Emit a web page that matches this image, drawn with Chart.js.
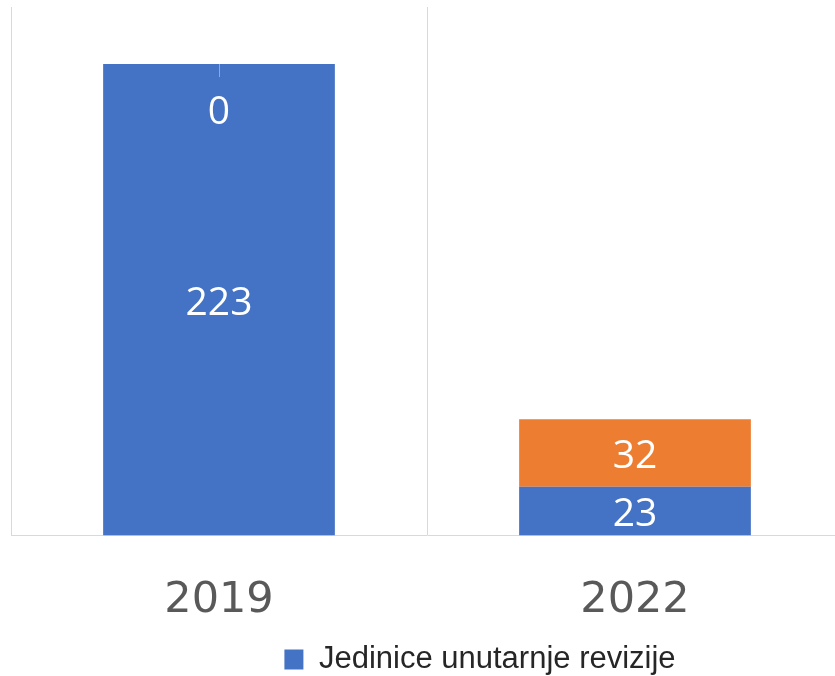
<!DOCTYPE html>
<html>
<head>
<meta charset="utf-8">
<script src="https://cdn.jsdelivr.net/npm/chart.js@4.4.1/dist/chart.umd.min.js"></script>
<style>
  html, body { margin: 0; padding: 0; background: #fff; overflow: hidden; }
  #wrap { width: 845px; height: 676px; }
</style>
</head>
<body>
<div id="wrap"><canvas id="chart"></canvas></div>
<script>
// chart data
const years = ['2019', '2022'];
const unitsValues = [223, 23];   // Jedinice unutarnje revizije
const otherValues = [0, 32];     // second (unlabelled) series
const legendLabel = 'Jedinice unutarnje revizije';

// simple inline value labels, centered in each bar segment
const valueLabels = {
  id: 'valueLabels',
  afterDatasetsDraw(chart) {
    const ctx = chart.ctx;
    ctx.save();
    ctx.font = '39px "Open Sans"';
    ctx.textAlign = 'center';
    ctx.textBaseline = 'middle';
    chart.data.datasets.forEach((ds, i) => {
      chart.getDatasetMeta(i).data.forEach((bar, j) => {
        const v = ds.data[j];
        let y = (bar.y + bar.base) / 2 + 4;
        if (v === 0) {
          // zero segment: short leader line and label pushed inside the bar below
          ctx.strokeStyle = '#a6a6a6';
          ctx.lineWidth = 1;
          ctx.beginPath();
          ctx.moveTo(bar.x + 0.5, bar.y);
          ctx.lineTo(bar.x + 0.5, bar.y + 13);
          ctx.stroke();
          y = bar.y + 49;
        }
        ctx.fillStyle = '#ffffff';
        ctx.fillText(String(v), bar.x, y);
      });
    });
    ctx.restore();
  }
};

// legend in the original sits right of centre and close to the bottom
const shiftLegend = {
  id: 'shiftLegend',
  afterLayout(chart) {
    chart.legend.left += 53;
    chart.legend.right += 53;
    chart.legend.top += 9;
    chart.legend.bottom += 9;
  }
};

const ctx = document.getElementById('chart').getContext('2d');
new Chart(ctx, {
  type: 'bar',
  data: {
    labels: years,
    datasets: [
      {
        label: legendLabel,
        data: unitsValues,
        backgroundColor: '#4472c4',
        barPercentage: 0.557,
        categoryPercentage: 1
      },
      {
        label: '',
        data: otherValues,
        backgroundColor: '#ed7d31',
        barPercentage: 0.557,
        categoryPercentage: 1
      }
    ]
  },
  options: {
    responsive: true,
    maintainAspectRatio: false,
    animation: false,
    layout: {
      padding: { left: 11, top: 7, right: 2, bottom: 0 }
    },
    plugins: {
      tooltip: { enabled: false },
      legend: {
        position: 'bottom',
        labels: {
          filter: (item) => item.datasetIndex === 0,
          boxWidth: 19,
          boxHeight: 20,
          color: '#262626',
          font: { family: '"Liberation Sans Narrow", "Liberation Sans"', size: 31 },
          padding: 0
        }
      }
    },
    scales: {
      x: {
        stacked: true,
        afterFit: (scale) => { scale.height -= 32; },
        grid: {
          offset: true,
          color: '#d9d9d9',
          lineWidth: 1,
          drawTicks: false
        },
        border: { display: true, color: '#d9d9d9' },
        ticks: {
          color: '#595959',
          font: { family: '"DejaVu Sans"', size: 43 },
          padding: 40
        }
      },
      y: {
        stacked: true,
        display: false,
        min: 0,
        max: 250
      }
    }
  },
  plugins: [valueLabels, shiftLegend]
});
</script>
</body>
</html>
